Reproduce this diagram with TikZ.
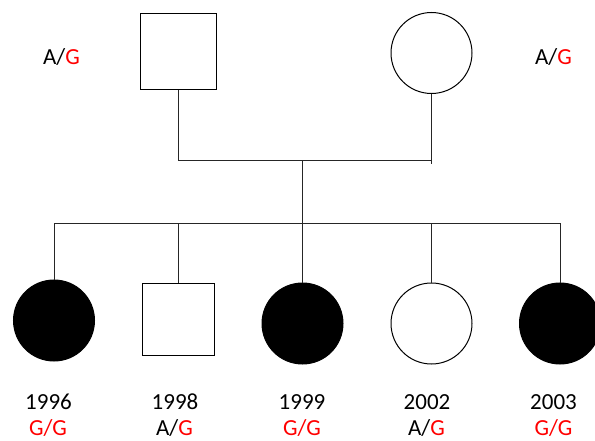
\documentclass[tikz,border=0pt]{standalone}
\usepackage{fontspec}
\setmainfont{Carlito}
\begin{document}
\begin{tikzpicture}[x=1pt,y=-1pt,
  male/.style={draw,line width=1pt,minimum size=#1,inner sep=0pt,rectangle},
  female/.style={draw,line width=1pt,circle,minimum size=81pt,inner sep=0pt},
  affected/.style={female,fill=black},
  conn/.style={draw,line width=0.9pt,black!85},
  lbl/.style={anchor=base,inner sep=0pt,font=\fontsize{23}{27}\selectfont}]
\useasboundingbox (0,0) rectangle (595,441);
\clip (0,0) rectangle (595,441);
% parents
\node[male=76pt] (f) at (178.5,51.5) {};
\node[female] (m) at (431.5,53) {};
\coordinate (mar) at (302,160.5);
\coordinate (sibL) at (54,223.5);
\coordinate (sibR) at (560,223.5);
\draw[conn] (f.south) |- (mar) -| (m.south);
\draw[conn] (m.south) -- ++(0,70);
\draw[conn] (mar) -- (mar |- sibL);
\draw[conn] (sibL) -- (sibR);
% children
\node[affected] (c1) at (54,320.5) {};
\node[male=72pt] (c2) at (178.5,319.5) {};
\node[affected] (c3) at (302.5,323.5) {};
\node[female] (c4) at (431.5,323.5) {};
\node[affected] (c5) at (560,323.5) {};
\foreach \c in {c1,c2,c3,c4,c5}{\draw[conn] (\c.north) -- (\c.north |- sibL);}
% labels
\node[lbl] (gf) at (61.5,65) {A/\textcolor{red}{G}};
\node[lbl] (gm) at (553.5,65) {A/\textcolor{red}{G}};
\node[lbl] (y1) at (48.5,409.5) {1996};
\node[lbl] (g1) at (48,435.5) {\textcolor{red}{G/G}};
\node[lbl] (y2) at (175,409.5) {1998};
\node[lbl] (g2) at (174.5,435.5) {A/\textcolor{red}{G}};
\node[lbl] (y3) at (302,409.5) {1999};
\node[lbl] (g3) at (302,435.5) {\textcolor{red}{G/G}};
\node[lbl] (y4) at (427,409.5) {2002};
\node[lbl] (g4) at (426.5,435.5) {A/\textcolor{red}{G}};
\node[lbl] (y5) at (553.5,409.5) {2003};
\node[lbl] (g5) at (553.5,435.5) {\textcolor{red}{G/G}};
\end{tikzpicture}
\end{document}
